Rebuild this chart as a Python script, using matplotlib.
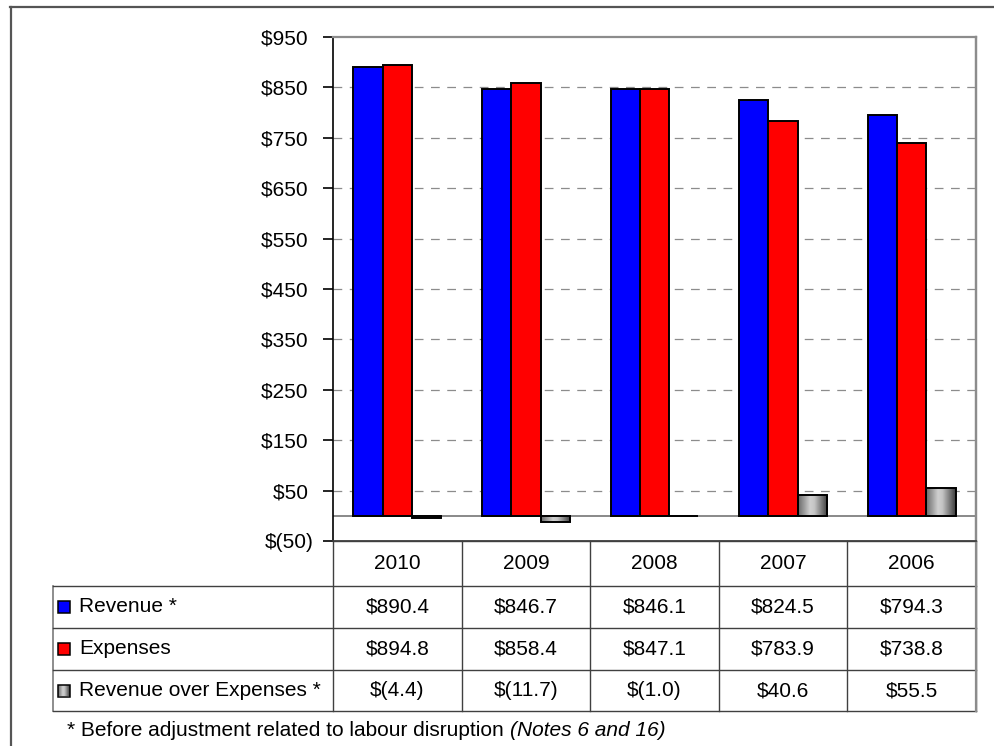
import numpy as np
import matplotlib
matplotlib.use("Agg")
import matplotlib.pyplot as plt
from matplotlib import transforms
from matplotlib.colors import LinearSegmentedColormap
from matplotlib.patches import Rectangle

# Data (millions of dollars)
years = ["2010", "2009", "2008", "2007", "2006"]
revenue = [890.4, 846.7, 846.1, 824.5, 794.3]
expenses = [894.8, 858.4, 847.1, 783.9, 738.8]
surplus = [-4.4, -11.7, -1.0, 40.6, 55.5]
series_names = ["Revenue *", "Expenses", "Revenue over Expenses *"]
yticks = list(range(-50, 1000, 100))

plt.rcParams["font.family"] = ["Liberation Sans", "DejaVu Sans"]
FS = 15

def money(v):
    if v < 0:
        return f"$({abs(v):.1f})"
    return f"${v:.1f}"

def money_tick(v):
    # Excel-style: positives keep room for the closing parenthesis
    if v < 0:
        return f"$({abs(v):.0f})"
    return f"${v:.0f} "

W, H = 995, 746
fig = plt.figure(figsize=(W / 100, H / 100), dpi=100)

# pixel-space overlay for frame, table and footnote
over = fig.add_axes([0, 0, 1, 1], zorder=0)
over.set_xlim(0, W)
over.set_ylim(H, 0)
over.axis("off")

# plot area
left, right, top, bottom = 333, 976, 37, 541
ax = fig.add_axes([left / W, 1 - bottom / H, (right - left) / W, (bottom - top) / H], zorder=1)
ax.patch.set_alpha(0)

x = np.arange(len(years))
bw = 0.228
gray_cmap = LinearSegmentedColormap.from_list(
    "g", [(0, "#6a6a6a"), (0.4, "#cfcfcf"), (0.55, "#c4c4c4"), (1, "#3c3c3c")])
grad = np.linspace(0, 1, 64).reshape(1, -1)

ax.bar(x - bw, revenue, bw, color="#0000ff", edgecolor="black", linewidth=1.4, zorder=3)
ax.bar(x, expenses, bw, color="#ff0000", edgecolor="black", linewidth=1.4, zorder=3)
sb = ax.bar(x + bw, surplus, bw, color="none", edgecolor="black", linewidth=1.4, zorder=3)
for p in sb:
    x0, y0 = p.get_x(), p.get_y()
    x1, y1 = x0 + p.get_width(), y0 + p.get_height()
    im = ax.imshow(grad, extent=[x0, x1, min(y0, y1), max(y0, y1)], aspect="auto",
                   cmap=gray_cmap, zorder=2.5)
    im.set_clip_path(p)

ax.set_xlim(-0.5, len(years) - 0.5)
ax.set_ylim(-50, 950)
ax.set_yticks(yticks)
ax.set_yticklabels([money_tick(t) for t in yticks], fontsize=FS)
ax.set_xticks([])
ax.tick_params(axis="y", direction="out", length=7, width=1.2, pad=7)
for t in yticks[1:-1]:
    if t != 0:
        ax.axhline(t, color="#8c8c8c", lw=0.9, dashes=(7, 6), zorder=1)
ax.axhline(0, color="#808080", lw=1.3, zorder=1.5)
ax.spines["left"].set_color("black")
ax.spines["left"].set_linewidth(1.2)
for s in ["top", "right"]:
    ax.spines[s].set_color("#8c8c8c")
    ax.spines[s].set_linewidth(1.6)
ax.spines["bottom"].set_color("#404040")
ax.spines["bottom"].set_linewidth(1.3)

# data table
bt = transforms.blended_transform_factory(ax.transData, over.transData)
tab_left = 53
rows_y = [541, 586, 628, 670, 711]
line_c = "#404040"
for xb in np.arange(len(years) + 1) - 0.5:
    over.plot([xb, xb], [rows_y[0], rows_y[-1]], transform=bt, color=line_c, lw=1.0)
over.plot([tab_left, tab_left], [rows_y[1], rows_y[-1]], color="#7a7a7a", lw=1.2)
over.plot([left, right], [rows_y[0], rows_y[0]], color=line_c, lw=1.0)
for yy in rows_y[1:]:
    over.plot([tab_left, right], [yy, yy], color=line_c, lw=1.0)
over.plot([right, right], [top, rows_y[-1]], color="#8c8c8c", lw=1.6)

for i, yr in enumerate(years):
    over.text(i, (rows_y[0] + rows_y[1]) / 2, yr, transform=bt, ha="center",
              va="center", fontsize=FS)
row_vals = [revenue, expenses, surplus]
key_colors = ["#0000ff", "#ff0000", None]
for r, (name, vals) in enumerate(zip(series_names, row_vals)):
    yc = (rows_y[r + 1] + rows_y[r + 2]) / 2
    for i, v in enumerate(vals):
        over.text(i, yc, money(v), transform=bt, ha="center", va="center", fontsize=FS)
    # legend key
    if key_colors[r]:
        over.add_patch(Rectangle((58, yc - 6), 12, 12, facecolor=key_colors[r],
                                 edgecolor="black", lw=1.1))
    else:
        kp = Rectangle((58, yc - 6), 12, 12, facecolor="none", edgecolor="black", lw=1.1)
        over.add_patch(kp)
        im = over.imshow(grad, extent=[58, 70, yc + 6, yc - 6], aspect="auto", cmap=gray_cmap)
        im.set_clip_path(kp)
    over.text(79, yc, name, ha="left", va="center", fontsize=FS)
over.set_xlim(0, W)
over.set_ylim(H, 0)

# footnote
t1 = over.text(67, 731, "* Before adjustment related to labour disruption ", ha="left",
               va="center", fontsize=FS)
over.annotate("(Notes 6 and 16)", xy=(1, 0.5), xycoords=t1, ha="left", va="center",
              fontsize=FS, style="italic")

# outer frame
over.plot([10, W], [7, 7], color="#555555", lw=1.6)
over.plot([11, 11], [7, H], color="#555555", lw=1.6)

fig.savefig("out.png", dpi=100)
